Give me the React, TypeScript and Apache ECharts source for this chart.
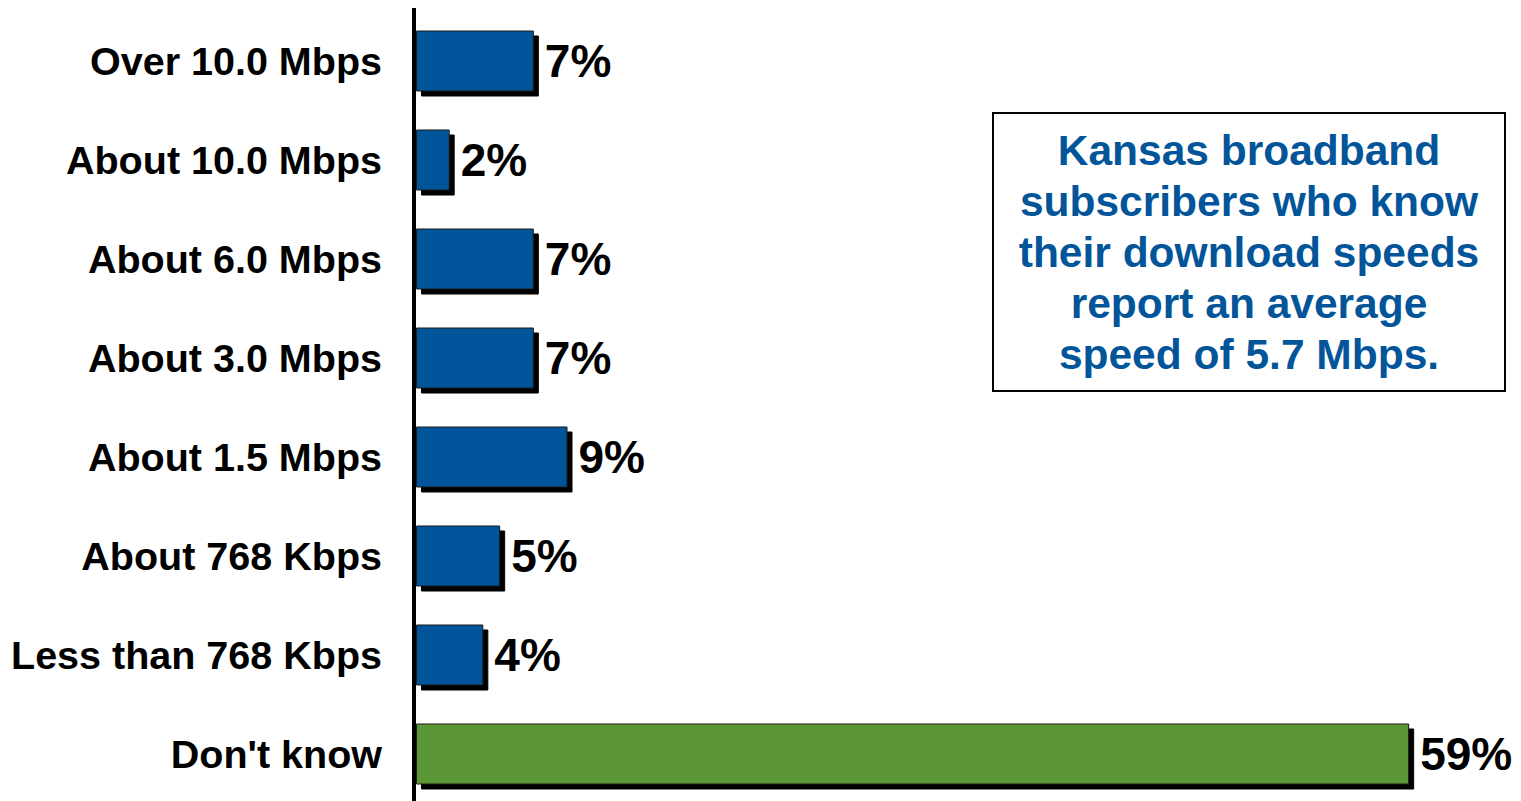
import React, { useEffect, useRef } from "react";
import * as echarts from "echarts";

const categories = [
  "Over 10.0 Mbps",
  "About 10.0 Mbps",
  "About 6.0 Mbps",
  "About 3.0 Mbps",
  "About 1.5 Mbps",
  "About 768 Kbps",
  "Less than 768 Kbps",
  "Don't know",
];
const percents = [7, 2, 7, 7, 9, 5, 4, 59];
const noteLines = [
  "Kansas broadband",
  "subscribers who know",
  "their download speeds",
  "report an average",
  "speed of 5.7 Mbps.",
];

const BLUE = "#03559A";
const GREEN = "#5B9734";
const FONT = "'Liberation Sans', Arial, sans-serif";

export default function App() {
  const ref = useRef<HTMLDivElement>(null);
  useEffect(() => {
    if (!ref.current) return;
    const chart = echarts.init(ref.current, undefined, { renderer: "svg" });
    chart.setOption({
      animation: false,
      backgroundColor: "#ffffff",
      grid: { left: 416, top: 11.5, height: 792, width: 1010, containLabel: false },
      xAxis: {
        type: "value",
        min: 0,
        max: 60,
        show: false,
        splitLine: { show: false },
      },
      yAxis: {
        type: "category",
        data: categories,
        inverse: true,
        axisLine: { show: false },
        axisTick: { show: false },
        axisLabel: {
          margin: 34,
          color: "#000",
          fontFamily: FONT,
          fontWeight: "bold",
          fontSize: 39.5,
        },
      },
      series: [
        {
          type: "bar",
          barWidth: 61,
          data: percents.map((v, i) => ({
            value: v,
            itemStyle: {
              color: categories[i] === "Don't know" ? GREEN : BLUE,
            },
          })),
          itemStyle: {
            borderColor: "#1a1a1a",
            borderWidth: 1,
            shadowColor: "#000",
            shadowBlur: 0,
            shadowOffsetX: 5,
            shadowOffsetY: 5,
          },
          label: {
            show: true,
            position: "right",
            distance: 11,
            formatter: "{c}%",
            color: "#000",
            fontFamily: FONT,
            fontWeight: "bold",
            fontSize: 46,
          },
        },
      ],
      graphic: [
        {
          type: "line",
          shape: { x1: 414, y1: 8, x2: 414, y2: 810 },
          style: { stroke: "#000", lineWidth: 4 },
          z: 10,
        },
        {
          type: "rect",
          shape: { x: 993, y: 113, width: 512, height: 278 },
          style: { fill: "#fff", stroke: "#000", lineWidth: 2 },
          z: 10,
        },
        {
          type: "text",
          x: 1249,
          y: 252,
          style: {
            text: noteLines.join("\n"),
            fill: "#03559A",
            font: `bold 42.5px ${FONT}`,
            lineHeight: 51,
            align: "center",
            verticalAlign: "middle",
          },
          z: 11,
        },
      ],
    });
    return () => chart.dispose();
  }, []);
  return (
    <div
      ref={ref}
      style={{ position: "fixed", left: 0, top: 0, width: 1521, height: 810 }}
    />
  );
}
